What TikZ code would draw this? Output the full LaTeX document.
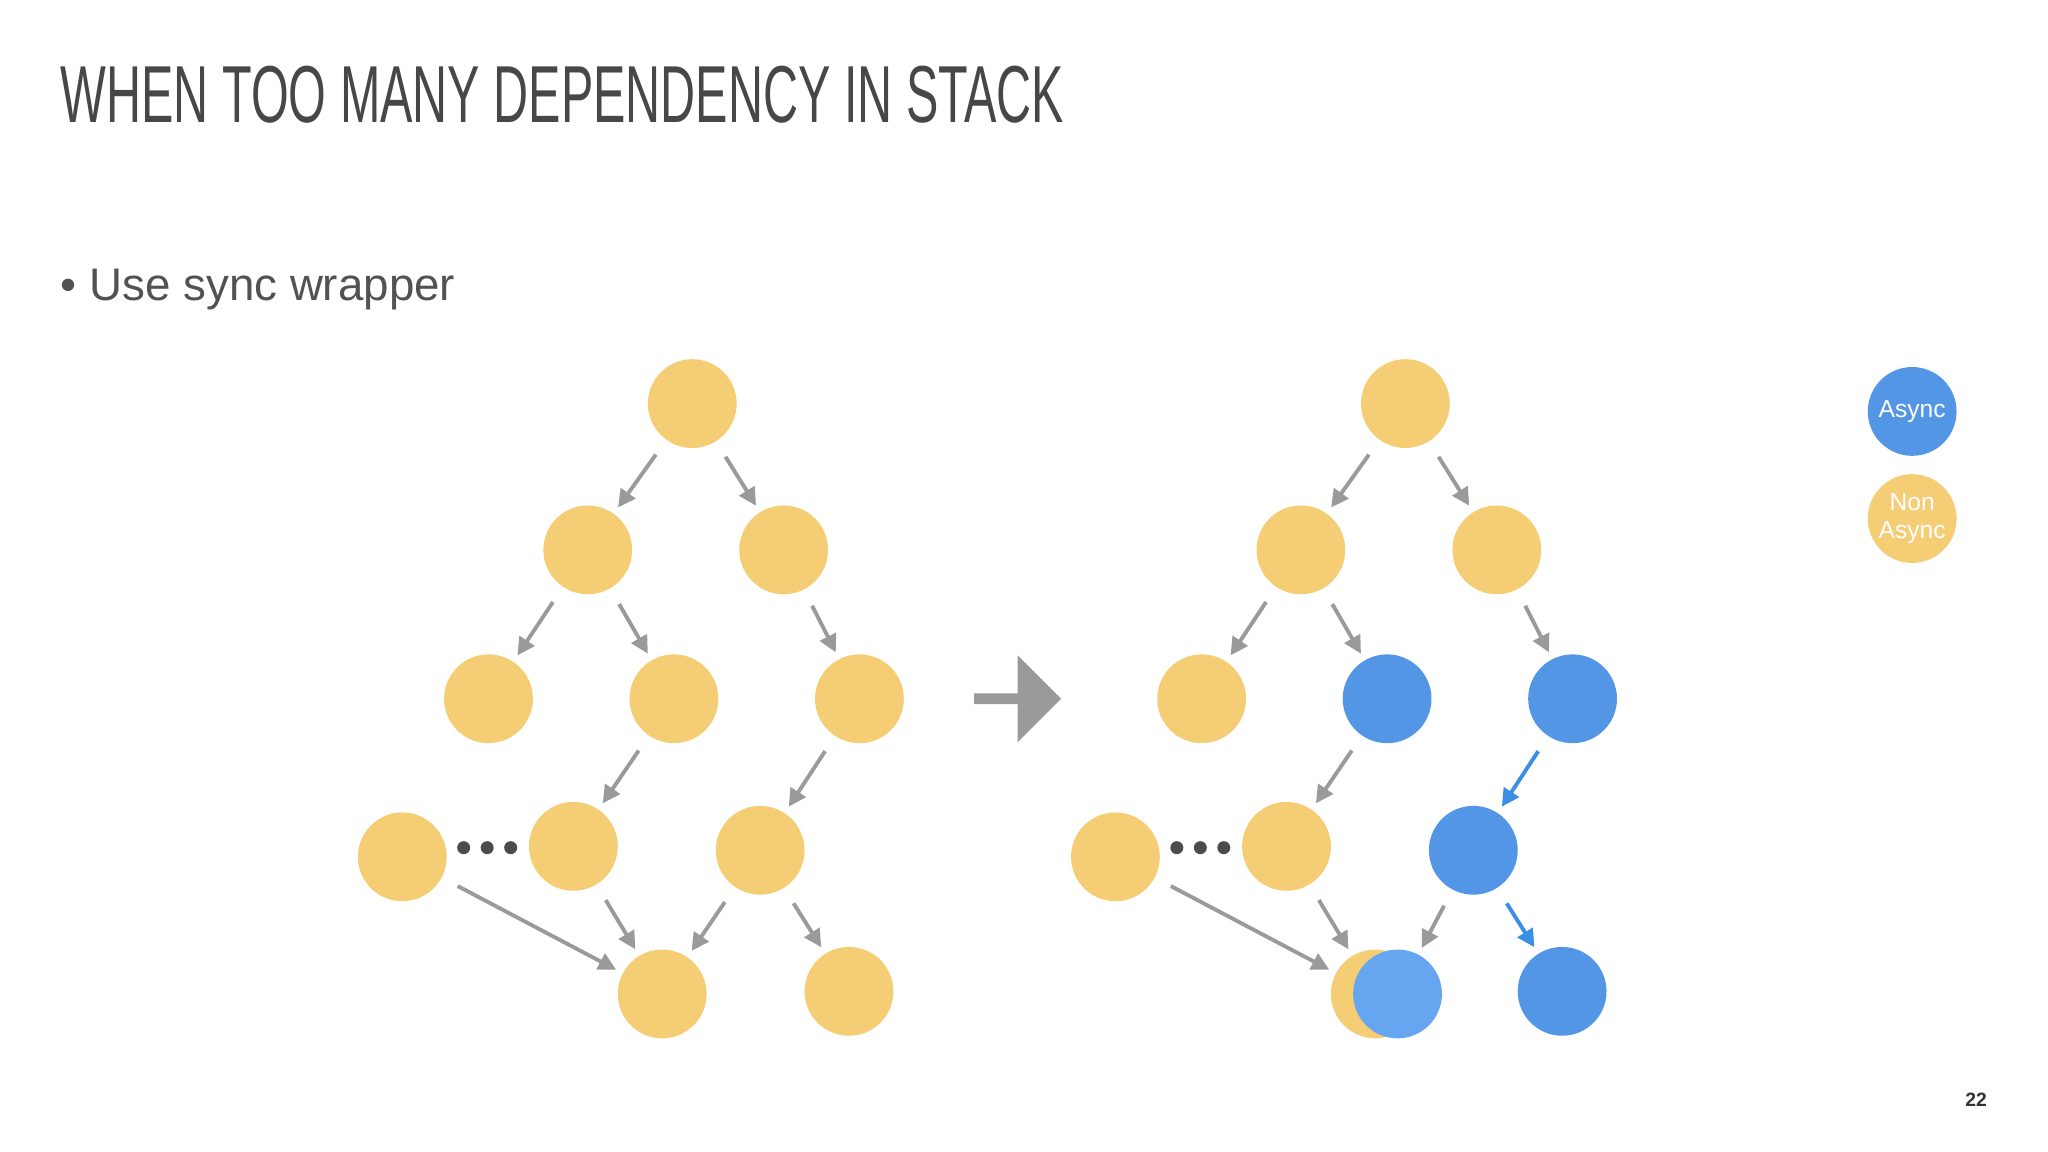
\documentclass[tikz,border=0pt]{standalone}
\usepackage{fontspec}
\setmainfont{Liberation Sans}
\usetikzlibrary{arrows.meta,shapes.arrows}
\definecolor{yel}{HTML}{F5CD74}
\definecolor{blu}{HTML}{5296E5}
\definecolor{lblu}{HTML}{66A6F0}
\definecolor{gar}{HTML}{9A9A9A}
\definecolor{bar}{HTML}{3A8EE6}
\tikzset{
 nd/.style={circle,minimum size=0.888cm,inner sep=0,fill=yel},
 bn/.style={nd,fill=blu},
 ga/.style={draw=gar,line width=1.1pt,-{Triangle[length=5pt,width=5pt]},shorten <=5pt,shorten >=2pt},
 ba/.style={ga,draw=bar,-{Triangle[length=5pt,width=5pt]},bar},
 dot/.style={circle,fill=black!70,minimum size=0.13cm,inner sep=0}
}
\begin{document}
\begin{tikzpicture}[x=0.013061cm,y=-0.013061cm]
\useasboundingbox (0,0) rectangle (1568,882);
\node[anchor=base west,inner sep=0,text=black!72] (title) at (46,94) {\scalebox{0.6}[1]{\fontsize{23}{26}\selectfont WHEN TOO MANY DEPENDENCY IN STACK}};
\node[anchor=base west,inner sep=0,text=black!68,font=\fontsize{13}{15}\selectfont] (bul) at (46,230) {•\ Use sync wrapper};
% left tree
\foreach \n/\x/\y in {A/530/309,B/450/421,C/600/421,D/374/535,E/516/535,F/658/535,G/308/656,H/439/648,I/582/651,J/507/761,K/650/759}
  \node[nd] (\n) at (\x,\y) {};
\foreach \a/\b in {A/B,A/C,B/D,B/E,C/F,E/H,F/I,G/J,H/J,I/J,I/K}
  \draw[ga] (\a) -- (\b);
\foreach \i/\x in {1/355,2/373,3/391} \node[dot] (ld\i) at (\x,649) {};
% arrow
\node[single arrow,fill=gar,minimum height=0.87cm,minimum width=0.87cm,single arrow head extend=0.05cm,inner sep=0] (arr) at (777,535) {};
% right tree
\foreach \n/\x/\y in {A/1076/309,B/996/421,C/1146/421,D/920/535,G/854/656,H/985/648,J/1053/761}
  \node[nd] (r\n) at (\x,\y) {};
\foreach \n/\x/\y in {E/1062/535,F/1204/535,I/1128/651,K/1196/759}
  \node[bn] (r\n) at (\x,\y) {};
\node[nd,fill=lblu] (rJb) at (1070,761) {};
\foreach \a/\b in {A/B,A/C,B/D,B/E,C/F,E/H,G/J,H/J}
  \draw[ga] (r\a) -- (r\b);
\draw[ga] (rI) -- (rJb);
\draw[ba] (rF) -- (rI);
\draw[ba] (rI) -- (rK);
\foreach \i/\x in {1/901,2/919,3/937} \node[dot] (rd\i) at (\x,649) {};
% legend
\node[bn,text=white,font=\fontsize{7}{8}\selectfont] (la) at (1464,315) {Async};
\node[nd,text=white,align=center,font=\fontsize{7}{8}\selectfont] (ln) at (1464,397) {Non\\Async};
\node[font=\bfseries\fontsize{5.5}{6}\selectfont,text=black!80] (pg) at (1513,842) {22};
\end{tikzpicture}
\end{document}
